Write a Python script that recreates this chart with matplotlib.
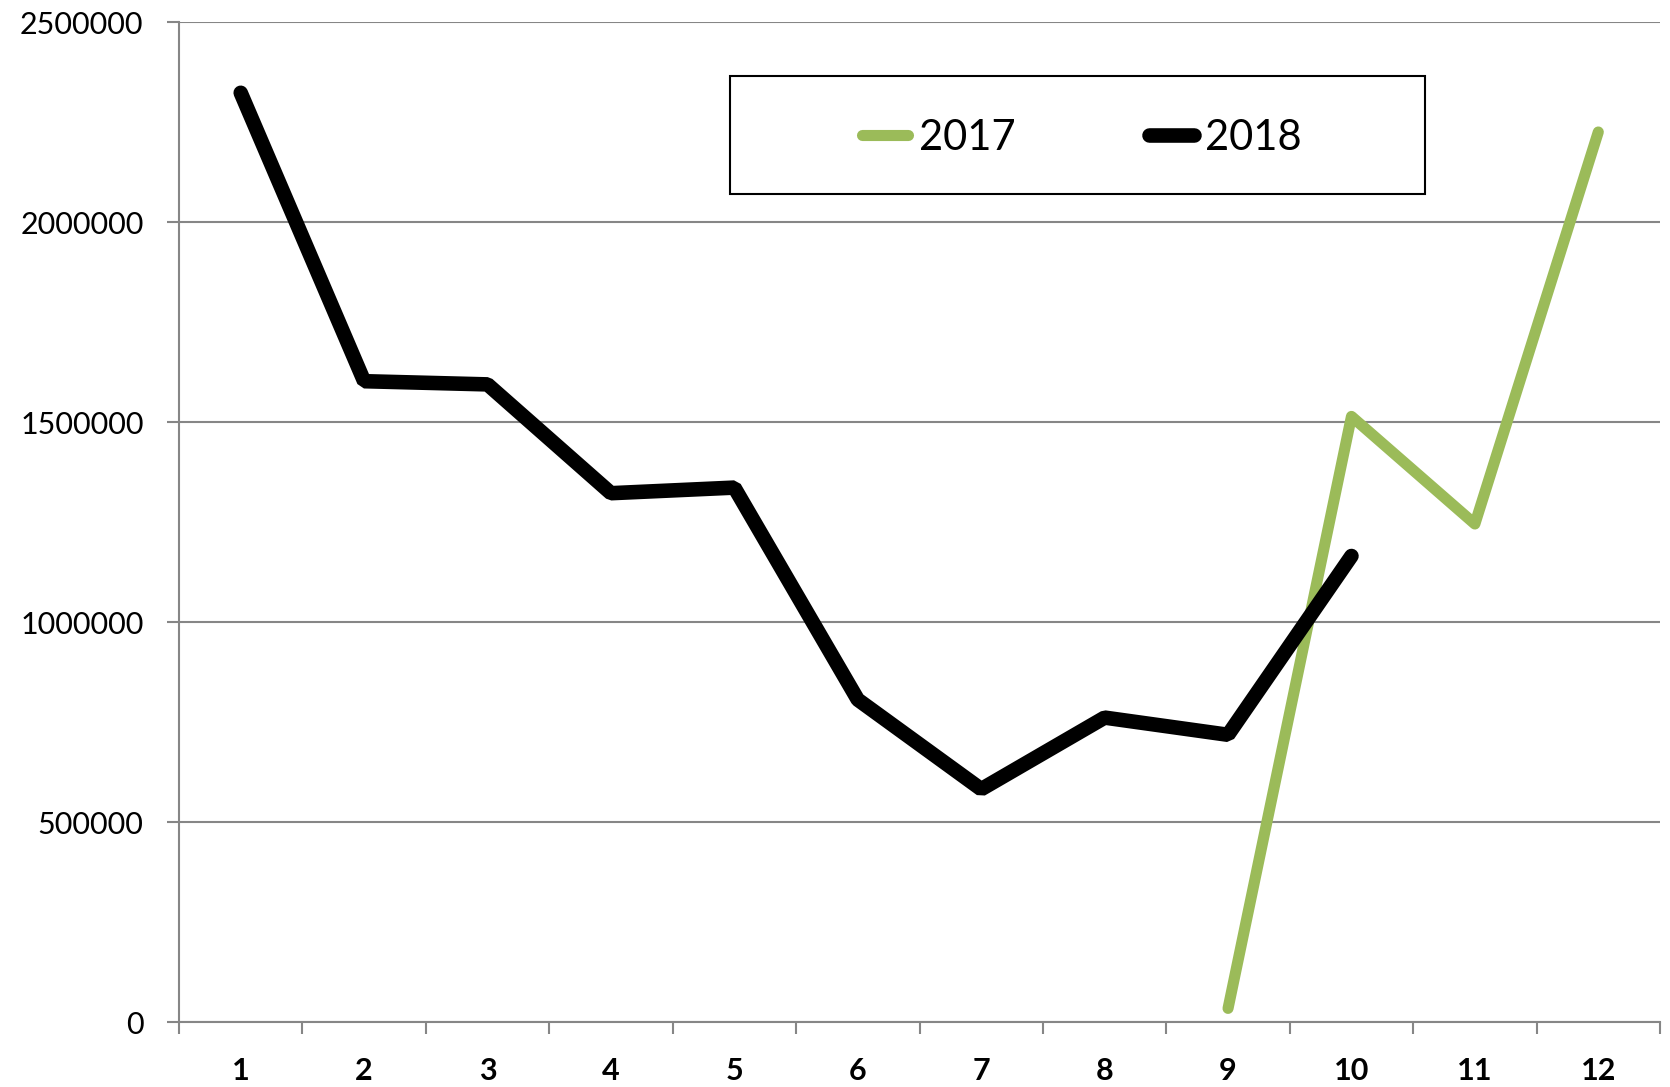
import matplotlib
matplotlib.use("Agg")
import matplotlib.pyplot as plt
from matplotlib.patches import Rectangle
from matplotlib.lines import Line2D

months = ["1", "2", "3", "4", "5", "6", "7", "8", "9", "10", "11", "12"]
y2018 = [2323000, 1602000, 1594000, 1322000, 1336000, 806000, 582000, 761000, 718000, 1165000]
x2017 = ["9", "10", "11", "12"]
y2017 = [34000, 1514000, 1245000, 2225000]
yticks = [0, 500000, 1000000, 1500000, 2000000, 2500000]

plt.rcParams['font.family'] = ['Lato', 'DejaVu Sans']

fig = plt.figure(figsize=(16.70, 10.87), dpi=100)
ax = fig.add_axes([179/1670, 65/1087, (1660-179)/1670, (1022-22)/1087])

pos = {m: i for i, m in enumerate(months)}
green = '#9BBB59'
LW_G = 8.0
LW_B = 10.5
ax.plot([pos[m] for m in x2017], y2017, color=green, lw=LW_G,
        solid_capstyle='round', solid_joinstyle='round', zorder=3)
ax.plot([pos[m] for m in months[:len(y2018)]], y2018, color='black', lw=LW_B,
        solid_capstyle='round', solid_joinstyle='bevel', zorder=4)

ax.set_xlim(-0.5, 11.5)
ax.set_ylim(0, 2500000)
ax.set_yticks(yticks)
ax.set_yticklabels([str(v) for v in yticks], fontsize=22)
ax.yaxis.grid(True, color='#868686', lw=1.5)
ax.set_axisbelow(True)

ax.set_xticks(range(len(months)))
ax.set_xticklabels(months, fontsize=22, fontweight='bold')
ax.tick_params(axis='x', which='major', length=0, pad=25)
ax.set_xticks([i - 0.5 for i in range(len(months) + 1)], minor=True)
ax.tick_params(axis='x', which='minor', length=8.5, width=1.5, color='#868686', direction='out')
ax.tick_params(axis='y', length=8.5, width=1.5, color='#868686', pad=17)

for s in ['top', 'right']:
    ax.spines[s].set_visible(False)
for s in ['left', 'bottom']:
    ax.spines[s].set_color('#868686')
    ax.spines[s].set_linewidth(1.5)

# legend box
fig.patches.append(Rectangle((730/1670, 1 - 194/1087), 695/1670, 118/1087,
                             transform=fig.transFigure, fill=True, facecolor='white',
                             edgecolor='black', lw=1.5, zorder=5))
handles = [Line2D([], [], color=green, lw=LW_G, solid_capstyle='round'),
           Line2D([], [], color='black', lw=LW_B, solid_capstyle='round')]
fig.legend(handles, ['2017', '2018'], loc='center', bbox_to_anchor=(1082/1670, 1 - 138/1087),
           ncol=2, frameon=False, fontsize=30, handlelength=1.1, handletextpad=0.25,
           columnspacing=3.2)

fig.savefig('out.png', dpi=100)
